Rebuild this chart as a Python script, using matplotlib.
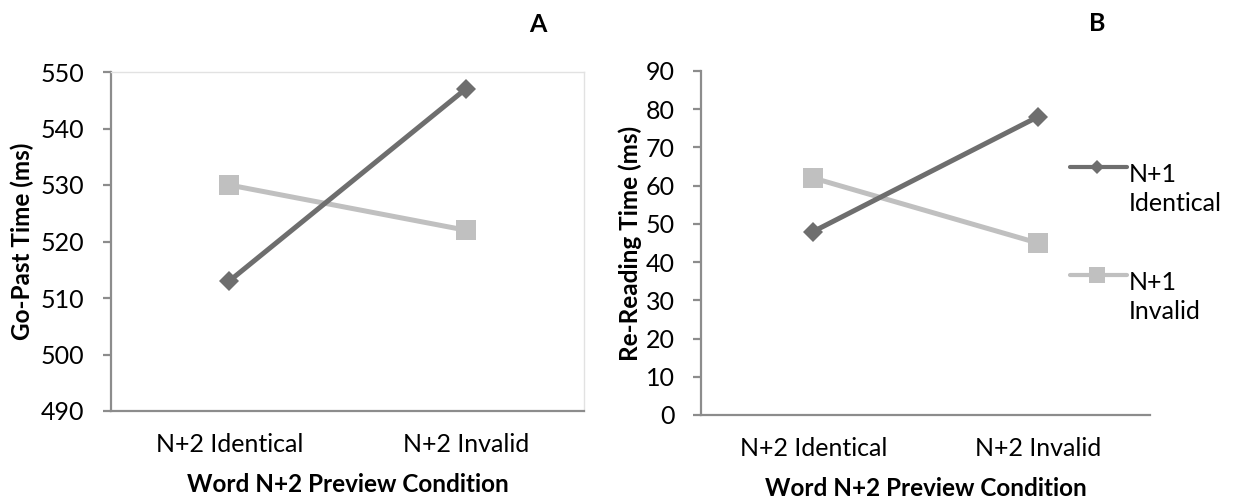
import matplotlib
matplotlib.use("Agg")
import matplotlib.pyplot as plt
from matplotlib.lines import Line2D

plt.rcParams['font.family'] = ['Lato', 'DejaVu Sans']

# Data
categories = ["N+2 Identical", "N+2 Invalid"]
series_names = ["N+1\nIdentical", "N+1\nInvalid"]
go_past_identical = [513, 547]
go_past_invalid = [530, 522]
rereading_identical = [48, 78]
rereading_invalid = [62, 45]
go_past_ticks = [490, 500, 510, 520, 530, 540, 550]
rereading_ticks = [0, 10, 20, 30, 40, 50, 60, 70, 80, 90]

DARK = "#6e6e6e"
LIGHT = "#c0c0c0"
AXIS = "#8c8c8c"
FRAME = "#e2e2e2"

TICK_FS = 18
LABEL_FS = 17.5

fig = plt.figure(figsize=(12.37, 5.03), dpi=100)
W, H = 1237, 503


def px_axes(left, right, top, bottom):
    return fig.add_axes([left / W, (H - bottom) / H, (right - left) / W, (bottom - top) / H])


axA = px_axes(111, 584, 72, 411)
axB = px_axes(701, 1150, 71, 415)

x = list(range(len(categories)))


def style(ax, ticks, ylabel, frame):
    ax.set_xlim(-0.5, len(categories) - 0.5)
    ax.set_ylim(ticks[0], ticks[-1])
    ax.set_yticks(ticks)
    ax.set_xticks(x)
    ax.set_xticklabels(categories)
    for s in ("left", "bottom"):
        ax.spines[s].set_color(AXIS)
        ax.spines[s].set_linewidth(1.6)
    for s in ("top", "right"):
        if frame:
            ax.spines[s].set_color(FRAME)
            ax.spines[s].set_linewidth(1.0)
        else:
            ax.spines[s].set_visible(False)
    ax.tick_params(axis="y", length=6, width=1.6, color=AXIS, pad=13,
                   labelsize=TICK_FS, labelcolor="black")
    ax.tick_params(axis="x", length=0, pad=16, labelsize=TICK_FS, labelcolor="black")
    ax.set_xlabel("Word N+2 Preview Condition", fontsize=LABEL_FS,
                  fontweight="bold", labelpad=12)
    ax.set_ylabel(ylabel, fontsize=LABEL_FS, fontweight="bold")


def draw(ax, ident, inval):
    ax.plot(x, inval, color=LIGHT, lw=3.6, marker="s", markersize=14,
            markeredgewidth=0, clip_on=False, zorder=3)
    ax.plot(x, ident, color=DARK, lw=3.6, marker="D", markersize=10.5,
            markeredgewidth=0, clip_on=False, zorder=4)


draw(axA, go_past_identical, go_past_invalid)
draw(axB, rereading_identical, rereading_invalid)
style(axA, go_past_ticks, "Go-Past Time (ms)", True)
style(axB, rereading_ticks, "Re-Reading Time (ms)", False)
axA.yaxis.set_label_coords(-0.163, 0.5)
axB.yaxis.set_label_coords(-0.131, 0.5)

# Legend beside panel B
legend_rows = [
    (DARK, "D", 7.5, series_names[0], 0.721, 0.733),
    (LIGHT, "s", 11, series_names[1], 0.407, 0.418),
]
for color, mk, ms, label, ly, ty in legend_rows:
    axB.add_line(Line2D([0.822, 0.949], [ly, ly], transform=axB.transAxes,
                        color=color, lw=3, solid_capstyle="round", clip_on=False))
    axB.add_line(Line2D([0.882], [ly], transform=axB.transAxes, color=color,
                        marker=mk, markersize=ms, markeredgewidth=0, clip_on=False))
    axB.text(0.953, ty, label, transform=axB.transAxes, fontsize=TICK_FS,
             va="top", ha="left", linespacing=1.3)

# Panel letters
fig.text(538 / W, 1 - 25 / H, "A", fontsize=18, fontweight="bold", ha="center", va="center")
fig.text(1097 / W, 1 - 24 / H, "B", fontsize=18, fontweight="bold", ha="center", va="center")

fig.savefig("out.png", dpi=100, facecolor="white")
